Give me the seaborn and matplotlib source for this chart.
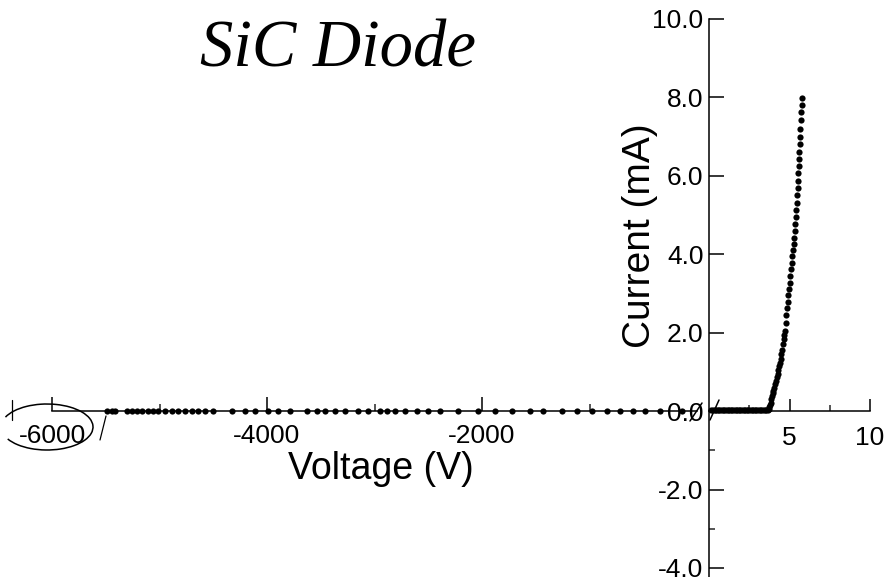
import matplotlib
matplotlib.use("Agg")
import matplotlib.pyplot as plt
from matplotlib.lines import Line2D
from matplotlib.patches import Arc
from matplotlib.ticker import FixedLocator, FuncFormatter
import seaborn as sns

# ---------------- data ----------------
# reverse-bias branch (left panel), Voltage in V, current in mA
rev_voltage = [-5490, -5440, -5410, -5300, -5255, -5210, -5165, -5105, -5060, -5015,
               -4950, -4885, -4830, -4765, -4700, -4640, -4580, -4500, -4325, -4205,
               -4110, -3990, -3900, -3785, -3630, -3535, -3460, -3365, -3275, -3155,
               -3060, -2950, -2885, -2810, -2715, -2605, -2500, -2390, -2225, -2035,
               -1880, -1720, -1555, -1435, -1255, -1115, -975, -835, -715, -595,
               -485, -345, -140]
rev_current = [0.0, 0.0, 0.0, 0.0, 0.0, 0.0, 0.0, 0.0, 0.0, 0.0,
               0.0, 0.0, 0.0, 0.0, 0.0, 0.0, 0.0, 0.0, 0.0, 0.0,
               0.0, 0.0, 0.0, 0.0, 0.0, 0.0, 0.0, 0.0, 0.0, 0.0,
               0.0, 0.0, 0.0, 0.0, 0.0, 0.0, 0.0, 0.0, 0.0, 0.0,
               0.0, 0.0, 0.0, 0.0, 0.0, 0.0, 0.0, 0.0, 0.0, 0.0,
               0.0, 0.0, 0.0]

# forward-bias branch (right panel)
fwd_voltage = [0.15, 0.25, 0.35, 0.45, 0.55, 0.65, 0.75, 0.85, 0.95, 1.05,
               1.15, 1.25, 1.35, 1.45, 1.55, 1.65, 1.75, 1.85, 1.95, 2.05,
               2.15, 2.25, 2.35, 2.45, 2.55, 2.65, 2.75, 2.85, 2.95, 3.05,
               3.15, 3.25, 3.35, 3.45, 3.55, 3.65,
               3.70, 3.75, 3.80, 3.84, 3.88, 3.92, 3.96, 4.00, 4.05, 4.10,
               4.15, 4.20, 4.26, 4.31, 4.36, 4.41, 4.45, 4.49, 4.53, 4.58,
               4.63, 4.68, 4.72, 4.76, 4.80, 4.85, 4.89, 4.93, 4.97, 5.01,
               5.05, 5.09, 5.13, 5.17, 5.21, 5.25, 5.29, 5.32, 5.35, 5.38,
               5.41, 5.44, 5.47, 5.50, 5.53, 5.55, 5.57, 5.59, 5.61, 5.63,
               5.65, 5.68, 5.70, 5.72, 5.76, 5.80]
fwd_current = [0.03, 0.02, 0.03, 0.02, 0.02, 0.03, 0.02, 0.02, 0.02, 0.03,
               0.02, 0.02, 0.02, 0.02, 0.02, 0.02, 0.02, 0.02, 0.02, 0.02,
               0.02, 0.02, 0.02, 0.02, 0.02, 0.02, 0.02, 0.02, 0.02, 0.02,
               0.02, 0.02, 0.02, 0.02, 0.02, 0.03,
               0.05, 0.10, 0.16, 0.22, 0.30, 0.38, 0.45, 0.52, 0.60, 0.70,
               0.78, 0.86, 0.95, 1.05, 1.14, 1.22, 1.34, 1.45, 1.56, 1.70,
               1.83, 1.95, 2.05, 2.25, 2.45, 2.62, 2.78, 2.95, 3.12, 3.28,
               3.45, 3.62, 3.78, 3.95, 4.10, 4.25, 4.42, 4.60, 4.78, 4.96,
               5.14, 5.32, 5.50, 5.68, 5.88, 6.06, 6.24, 6.42, 6.60, 6.80,
               7.00, 7.20, 7.42, 7.62, 7.80, 7.98]

rev_major_ticks = [-6000, -4000, -2000]
rev_minor_ticks = [-5000, -3000, -1000]
fwd_major_ticks = [5, 10]
fwd_minor_ticks = [2.5, 7.5]
cur_major_ticks = [-4.0, -2.0, 0.0, 2.0, 4.0, 6.0, 8.0, 10.0]
cur_minor_ticks = [-3.0, -1.0]

title_text = "SiC Diode"
xlabel_text = "Voltage (V)"
ylabel_text = "Current (mA)"

# ---------------- style ----------------
sns.set_style("ticks")
plt.rcParams["font.family"] = ["Liberation Sans", "DejaVu Sans"]
plt.rcParams["axes.unicode_minus"] = False

W, H = 884, 577
fig = plt.figure(figsize=(W / 100, H / 100), dpi=100)
fig.patch.set_facecolor("white")

def fx(px):
    return px / W

def fy(py):
    return 1 - py / H

ymin, ymax = -4.23, 10.0
ax_top_px = 19

# right panel (forward)
ax_r = fig.add_axes([fx(709), 0, fx(870) - fx(709), 1 - ax_top_px / H])
# left panel (reverse)
ax_l = fig.add_axes([fx(52), 0, fx(697) - fx(52), 1 - ax_top_px / H])

for ax in (ax_l, ax_r):
    ax.patch.set_alpha(0)
    ax.set_ylim(ymin, ymax)
    for s in ("top", "right"):
        ax.spines[s].set_visible(False)
    ax.spines["bottom"].set_position(("data", 0))
    for s in ax.spines.values():
        s.set_linewidth(1.1)
        s.set_color("black")

sns.scatterplot(x=fwd_voltage, y=fwd_current, ax=ax_r, color="black",
                s=20, linewidth=0, clip_on=False, zorder=3)
sns.scatterplot(x=rev_voltage, y=rev_current, ax=ax_l, color="black",
                s=20, linewidth=0, clip_on=False, zorder=3)

# right axes ticks
ax_r.set_xlim(0, 10)
ax_r.xaxis.set_major_locator(FixedLocator(fwd_major_ticks))
ax_r.xaxis.set_minor_locator(FixedLocator(fwd_minor_ticks))
ax_r.xaxis.set_major_formatter(FuncFormatter(lambda v, p: f"{v:g}"))
ax_r.yaxis.set_major_locator(FixedLocator(cur_major_ticks))
ax_r.yaxis.set_minor_locator(FixedLocator(cur_minor_ticks))
ax_r.yaxis.set_major_formatter(FuncFormatter(lambda v, p: f"{v:.1f}"))
ax_r.tick_params(axis="x", which="major", direction="in", length=9, width=1.1,
                 labelsize=19, pad=11, colors="black")
ax_r.tick_params(axis="x", which="minor", direction="in", length=4, width=1.1)
ax_r.tick_params(axis="y", which="major", direction="in", length=11, width=1.1,
                 labelsize=19, pad=4, colors="black")
ax_r.tick_params(axis="y", which="minor", direction="in", length=4, width=1.1)

# left axes ticks
ax_l.set_xlim(-6000, 0)
ax_l.spines["left"].set_visible(False)
ax_l.yaxis.set_visible(False)
ax_l.xaxis.set_major_locator(FixedLocator(rev_major_ticks))
ax_l.xaxis.set_minor_locator(FixedLocator(rev_minor_ticks))
ax_l.xaxis.set_major_formatter(FuncFormatter(lambda v, p: f"{v:.0f}"))
ax_l.tick_params(axis="x", which="major", direction="in", length=10, width=1.1,
                 labelsize=19, pad=9, colors="black")
ax_l.tick_params(axis="x", which="minor", direction="in", length=5, width=1.1)

# axis labels
ax_l.set_xlabel(xlabel_text, fontsize=27, color="black")
ax_l.xaxis.label.set_verticalalignment("center")
ax_l.xaxis.set_label_coords((381 - 52) / (697 - 52), (H - 469) / (H - ax_top_px))

ax_r.set_ylabel(ylabel_text, fontsize=28, color="black")
ax_r.yaxis.label.set_verticalalignment("center")
ax_r.yaxis.set_label_coords((640 - 709) / (870 - 709), (H - 236) / (H - ax_top_px))

# handwritten title
fig.text(fx(338), fy(50), title_text, fontsize=48, family="Liberation Serif",
         style="italic", ha="center", va="center", color="black")

# break marks and hand annotations
def seg(x0, y0, x1, y1, lw=1.1):
    fig.add_artist(Line2D([fx(x0), fx(x1)], [fy(y0), fy(y1)], color="black", lw=lw))

seg(690, 421, 702, 403)
seg(710, 420, 719, 400)
seg(100, 440, 106, 416, lw=0.9)
seg(12, 400, 12, 420, lw=0.9)
fig.add_artist(Arc((fx(47), fy(427)), fx(92), 46 / H, theta1=-155, theta2=160,
                   transform=fig.transFigure, color="black", lw=1.1))

fig.savefig("out.png", dpi=100, facecolor="white")
